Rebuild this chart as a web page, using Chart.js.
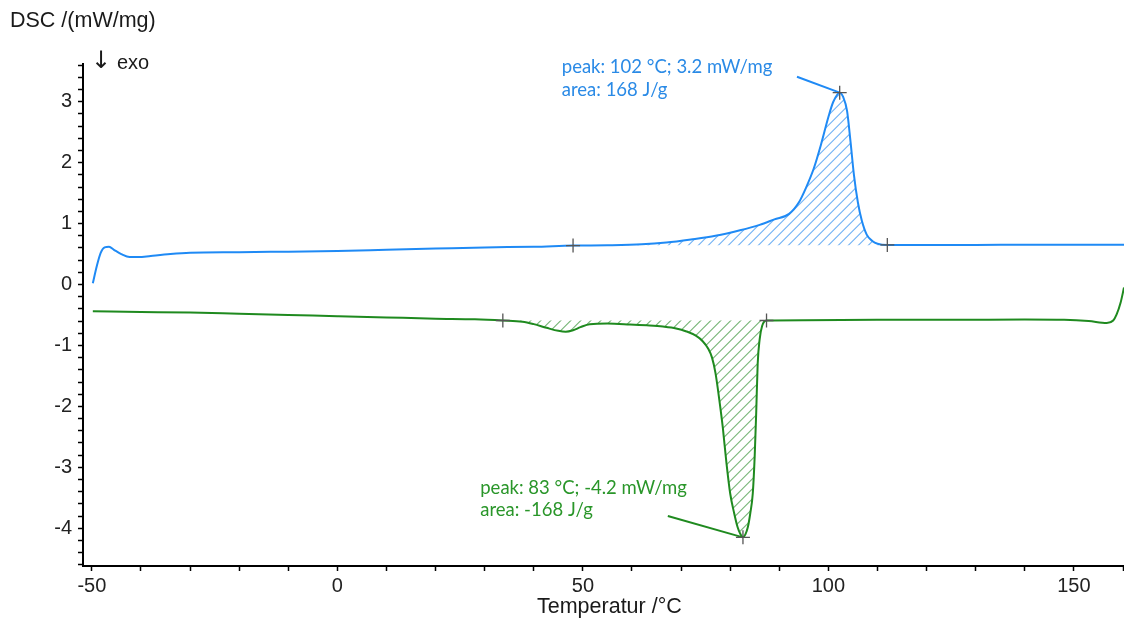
<!DOCTYPE html>
<html>
<head>
<meta charset="utf-8">
<script src="https://cdn.jsdelivr.net/npm/chart.js@4/dist/chart.umd.min.js"></script>
<style>
  html, body { margin: 0; padding: 0; background: #fff; overflow: hidden; }
  #wrap { width: 1124px; height: 621px; position: relative; }
  #dsc { display: block; }
</style>
</head>
<body>
<div id="wrap"><canvas id="dsc"></canvas></div>
<script>
// Heating run (blue): temperature / DSC signal
const heatT = [-49.8, -49.0, -48.2, -47.4, -46.5, -45.5, -44.0, -42.3, -40.5, -38, -34, -30, -20, -10, 0, 10, 20, 30, 40, 48,
  55, 62, 67, 72, 77, 82, 86, 89, 92, 94, 95.5, 97, 98.5, 100, 101, 102.3, 103, 103.8, 104.5, 105.2, 106, 106.8, 107.8, 109, 110, 112,
  120, 130, 140, 150, 160.2];
const heatV = [0.02, 0.30, 0.52, 0.61, 0.62, 0.57, 0.50, 0.45, 0.45, 0.47, 0.50, 0.52, 0.53, 0.54, 0.55, 0.57, 0.59, 0.61, 0.62, 0.64,
  0.645, 0.66, 0.69, 0.74, 0.80, 0.89, 0.98, 1.07, 1.16, 1.35, 1.60, 1.90, 2.30, 2.75, 3.0, 3.15, 3.08, 2.85, 2.35, 1.80, 1.35, 1.05, 0.82, 0.71, 0.67, 0.65,
  0.65, 0.65, 0.655, 0.655, 0.655];

// Cooling run (green)
const coolT = [-49.8, -40, -30, -20, -10, 0, 10, 20, 28, 33.7, 37.7, 40, 42.6, 45, 46.5, 48, 49.5, 51.4, 55, 59.6, 63, 66.3, 69, 71.1,
  73, 74.4, 75.5, 76.3, 77, 77.8, 78.5, 79.2, 80, 80.8, 81.5, 82.1, 82.6, 83.1, 83.6, 84.1, 84.6, 85.0, 85.3, 85.6, 86.0, 86.5, 87.4,
  95, 110, 125, 140, 148, 153, 156.7, 158, 158.7, 159.5, 160.2];
const coolV = [-0.44, -0.45, -0.46, -0.48, -0.50, -0.52, -0.54, -0.56, -0.57, -0.59, -0.61, -0.65, -0.71, -0.76, -0.775, -0.75, -0.70, -0.65, -0.64, -0.655, -0.67, -0.69, -0.72, -0.77,
  -0.84, -0.93, -1.05, -1.2, -1.45, -1.9, -2.35, -2.9, -3.43, -3.75, -3.98, -4.1, -4.15, -4.1, -3.98, -3.75, -3.43, -2.8, -2.1, -1.3, -0.9, -0.68, -0.59,
  -0.585, -0.58, -0.58, -0.575, -0.58, -0.60, -0.63, -0.59, -0.49, -0.30, -0.05];

// integration limits and baselines
const heatLimits = [48, 112];
const heatBase = 0.645;
const coolLimits = [33.7, 87.4];
const coolBase = -0.59;

// evaluation markers (+)
const heatMarks = [[48, 0.64], [102.3, 3.15], [112, 0.65]];
const coolMarks = [[33.7, -0.59], [87.4, -0.59], [82.6, -4.15]];

// leader lines from the labels to the peaks
const heatLeader = [[93.6, 3.41], [102.3, 3.15]];
const coolLeader = [[67.3, -3.80], [82.6, -4.15]];

const heatNote = ["peak: 102 °C; 3.2 mW/mg", "area: 168 J/g"];
const coolNote = ["peak: 83 °C; -4.2 mW/mg", "area: -168 J/g"];

const BLUE = "#1f8af5";
const GREEN = "#1f8a1f";
const BLUE_TXT = "#2a8ae6";
const GREEN_TXT = "#2a962a";
const BLUE_HATCH = "#4f9ff0";
const GREEN_HATCH = "#56a456";

const toPts = (xs, ys) => xs.map((x, i) => ({ x: x, y: ys[i] }));
const between = (pts, lim) => pts.filter((p) => p.x >= lim[0] && p.x <= lim[1]);

const heatPts = toPts(heatT, heatV);
const coolPts = toPts(coolT, coolV);

// dataset index -> baseline + hatch colour
const hatchAreas = [
  { index: 2, base: heatBase, color: BLUE_HATCH },
  { index: 3, base: coolBase, color: GREEN_HATCH },
];

// diagonal hatching between a line element and its baseline
const hatchPlugin = {
  id: "hatch",
  beforeDatasetsDraw(chart) {
    const ctx = chart.ctx;
    const ys = chart.scales.y;
    hatchAreas.forEach((h) => {
      const meta = chart.getDatasetMeta(h.index);
      const pts = meta.data;
      if (!pts.length) return;
      const by = ys.getPixelForValue(h.base);
      const x0 = pts[0].x, x1 = pts[pts.length - 1].x;
      let top = by, bot = by;
      pts.forEach((p) => { top = Math.min(top, p.y); bot = Math.max(bot, p.y); });
      ctx.save();
      ctx.beginPath();
      meta.dataset.path(ctx);
      ctx.lineTo(x1, by);
      ctx.lineTo(x0, by);
      ctx.closePath();
      ctx.clip();
      ctx.strokeStyle = h.color;
      ctx.globalAlpha = 0.8;
      ctx.lineWidth = 1.1;
      ctx.beginPath();
      const step = 10;
      const hgt = bot - top + 4;
      for (let x = x0 - hgt; x < x1 + step; x += step) {
        ctx.moveTo(x, bot + 2);
        ctx.lineTo(x + hgt, bot + 2 - hgt);
      }
      ctx.stroke();
      ctx.restore();
    });
  },
};

// texts drawn on top of the plot
const textPlugin = {
  id: "dscTexts",
  afterDraw(chart) {
    const ctx = chart.ctx;
    const xs = chart.scales.x, ys = chart.scales.y;
    ctx.save();
    ctx.textBaseline = "middle";
    ctx.textAlign = "left";
    ctx.fillStyle = "#1a1a1a";
    ctx.font = "21.5px 'Liberation Sans', Arial, sans-serif";
    ctx.fillText("DSC /(mW/mg)", 10, 21);
    ctx.font = "24px 'DejaVu Sans', sans-serif";
    ctx.fillText("\u2193", 91, 62);
    ctx.font = "20px 'Liberation Sans', Arial, sans-serif";
    ctx.fillText("exo", 117, 63);

    ctx.font = "21.5px 'Liberation Sans', Arial, sans-serif";
    ctx.textAlign = "center";
    ctx.fillText("Temperatur /°C", xs.getPixelForValue(55.4), 607);
    ctx.textAlign = "left";

    ctx.font = "18.5px Lato, 'Open Sans', sans-serif";
    ctx.fillStyle = BLUE_TXT;
    heatNote.forEach((t, i) => ctx.fillText(t, xs.getPixelForValue(45.7), ys.getPixelForValue(3.57) + i * 23));
    ctx.fillStyle = GREEN_TXT;
    coolNote.forEach((t, i) => ctx.fillText(t, xs.getPixelForValue(29.1), ys.getPixelForValue(-3.34) + i * 22));
    ctx.restore();
  },
};

const axisFont = { family: "'Liberation Sans', Arial, sans-serif", size: 20 };

new Chart(document.getElementById("dsc"), {
  type: "scatter",
  data: {
    datasets: [
      { data: heatPts, showLine: true, borderColor: BLUE, borderWidth: 2, pointRadius: 0, cubicInterpolationMode: "monotone", order: 1 },
      { data: coolPts, showLine: true, borderColor: GREEN, borderWidth: 2, pointRadius: 0, cubicInterpolationMode: "monotone", order: 1 },
      { data: between(heatPts, heatLimits), showLine: true, borderWidth: 0, borderColor: "rgba(0,0,0,0)", pointRadius: 0,
        cubicInterpolationMode: "monotone", fill: false, order: 3 },
      { data: between(coolPts, coolLimits), showLine: true, borderWidth: 0, borderColor: "rgba(0,0,0,0)", pointRadius: 0,
        cubicInterpolationMode: "monotone", fill: false, order: 3 },
      { data: heatLeader.map((p) => ({ x: p[0], y: p[1] })), showLine: true, borderColor: BLUE, borderWidth: 2, pointRadius: 0, order: 2 },
      { data: coolLeader.map((p) => ({ x: p[0], y: p[1] })), showLine: true, borderColor: GREEN, borderWidth: 2, pointRadius: 0, order: 2 },
      { data: heatMarks.concat(coolMarks).map((p) => ({ x: p[0], y: p[1] })), pointStyle: "cross", pointRadius: 7,
        borderColor: "#555", borderWidth: 1.3, order: 0 },
    ],
  },
  options: {
    responsive: true,
    maintainAspectRatio: false,
    animation: false,
    layout: { autoPadding: false, padding: { top: 64, right: 0, bottom: 0, left: 0 } },
    plugins: { legend: { display: false }, tooltip: { enabled: false }, title: { display: false } },
    scales: {
      x: {
        type: "linear",
        min: -51.8,
        max: 160.2,
        afterFit: (s) => { s.height = 55; s.paddingRight = 0; s.paddingLeft = 0; },
        border: { display: true, color: "#000", width: 2 },
        grid: { drawOnChartArea: false, tickLength: 5, color: "#000", tickWidth: 1.5 },
        ticks: {
          stepSize: 10,
          includeBounds: false,
          autoSkip: false,
          maxRotation: 0,
          padding: 3,
          color: "#222",
          font: axisFont,
          callback: (v) => (v % 50 === 0 ? String(v) : ""),
        },
      },
      y: {
        type: "linear",
        min: -4.62,
        max: 3.62,
        afterFit: (s) => { s.width = 83; s.paddingTop = 0; s.paddingBottom = 0; },
        border: { display: true, color: "#000", width: 2 },
        grid: { drawOnChartArea: false, tickLength: 5, color: "#000", tickWidth: 1.5 },
        ticks: {
          stepSize: 0.2,
          includeBounds: false,
          autoSkip: false,
          padding: 6,
          color: "#222",
          font: axisFont,
          callback: (v) => {
            const r = Math.round(v);
            return Math.abs(v - r) < 1e-6 ? String(r) : "";
          },
        },
      },
    },
  },
  plugins: [hatchPlugin, textPlugin],
});
</script>
</body>
</html>
